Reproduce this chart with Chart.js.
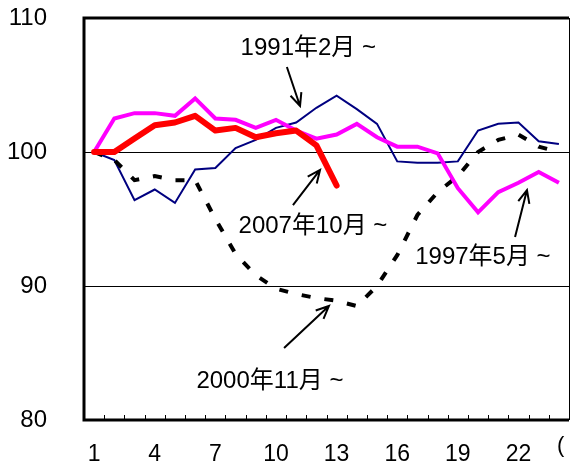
<!DOCTYPE html>
<html>
<head>
<meta charset="utf-8">
<script src="https://cdn.jsdelivr.net/npm/chart.js@4/dist/chart.umd.min.js"></script>
<style>
  html, body { margin: 0; padding: 0; background: #fff; }
  #wrap { width: 571px; height: 472px; }
</style>
</head>
<body>
<div id="wrap"><canvas id="c" width="571" height="472"></canvas></div>
<script>
// Months elapsed since each starting point (index = 100 at month 1)
const months = ['1','2','3','4','5','6','7','8','9','10','11','12',
                '13','14','15','16','17','18','19','20','21','22','23','24'];
const shownMonthLabels = ['1','4','7','10','13','16','19','22'];

const s1991 = [100, 99.4, 96.4, 97.2, 96.2, 98.7, 98.8, 100.3, 100.9, 101.8, 102.2, 103.3,
               104.2, 103.2, 102.1, 99.3, 99.2, 99.2, 99.3, 101.6, 102.1, 102.2, 100.8, 100.6];
const s1997 = [100, 102.5, 102.9, 102.9, 102.7, 104.0, 102.5, 102.4, 101.8, 102.4, 101.6, 101.0,
               101.3, 102.1, 101.1, 100.4, 100.4, 99.9, 97.3, 95.5, 97.0, 97.7, 98.5, 97.7];
const s2000 = [100, 99.4, 97.9, 98.2, 97.9, 97.9, 95.0, 92.4, 90.8, 89.8, 89.4, 89.1,
               88.9, 88.5, 90.0, 92.3, 95.3, 97.0, 98.2, 100.0, 100.9, 101.3, 100.4, 100.0];
const s2007 = [100, 100.0, 101.0, 102.0, 102.2, 102.7, 101.6, 101.8, 101.1, 101.4, 101.6, 100.5,
               97.5, null, null, null, null, null, null, null, null, null, null, null];

const yTicks = [80, 90, 100, 110];

const FONT = '"Liberation Sans", Arial, "Noto Sans CJK JP", sans-serif';

// Series captions with their pointer arrows, placed in data units (month, index)
const notes = [
  { text: '1991年2月 ~',  at: [11.60, 107.76], from: [10.54, 106.34], to: [11.19, 103.43] },
  { text: '2007年10月 ~', at: [11.83, 94.48],  from: [10.84, 96.04],  to: [12.18, 98.66] },
  { text: '1997年5月 ~',  at: [20.24, 92.16],  from: [21.83, 93.66],  to: [22.42, 97.16] },
  { text: '2000年11月 ~', at: [9.70, 82.91],   from: [10.40, 85.37],  to: [12.62, 88.51] }
];

const frameAndNotes = {
  id: 'frameAndNotes',
  afterDatasetsDraw(chart) {
    const { ctx, chartArea: a, scales: { x, y } } = chart;
    const px = m => x.getPixelForValue(m - 1);
    const py = v => y.getPixelForValue(v);
    ctx.save();

    // short inward tick marks between months
    ctx.strokeStyle = '#000';
    ctx.lineWidth = 1;
    for (let k = 1; k < months.length; k++) {
      const xx = Math.round((x.getPixelForValue(k - 1) + x.getPixelForValue(k)) / 2) + 0.5;
      ctx.beginPath();
      ctx.moveTo(xx, a.bottom);
      ctx.lineTo(xx, a.bottom - 5);
      ctx.stroke();
    }

    // plot frame
    ctx.lineWidth = 3;
    ctx.beginPath();
    ctx.moveTo(a.left, a.bottom);
    ctx.lineTo(a.left, a.top);
    ctx.lineTo(a.right, a.top);
    ctx.moveTo(a.left - 1.5, a.bottom);
    ctx.lineTo(a.right, a.bottom);
    ctx.stroke();
    ctx.lineWidth = 1;
    ctx.beginPath();
    ctx.moveTo(a.right + 0.5, a.top);
    ctx.lineTo(a.right + 0.5, a.bottom);
    ctx.stroke();

    // captions and arrows
    ctx.fillStyle = '#000';
    ctx.font = '24px ' + FONT;
    ctx.textAlign = 'center';
    ctx.textBaseline = 'middle';
    notes.forEach(n => {
      ctx.fillText(n.text, px(n.at[0]), py(n.at[1]));
      const x0 = px(n.from[0]), y0 = py(n.from[1]);
      const x1 = px(n.to[0]), y1 = py(n.to[1]);
      const ang = Math.atan2(y1 - y0, x1 - x0);
      const hl = 14, spread = 0.42;
      ctx.lineWidth = 2;
      ctx.beginPath();
      ctx.moveTo(x0, y0);
      ctx.lineTo(x1, y1);
      ctx.moveTo(x1 - hl * Math.cos(ang - spread), y1 - hl * Math.sin(ang - spread));
      ctx.lineTo(x1, y1);
      ctx.lineTo(x1 - hl * Math.cos(ang + spread), y1 - hl * Math.sin(ang + spread));
      ctx.stroke();
    });

    // unit bracket at the right end of the month axis
    ctx.textAlign = 'left';
    ctx.font = '22px ' + FONT;
    ctx.fillText('(', a.right - 12, a.bottom + 26);
    ctx.restore();
  }
};

new Chart(document.getElementById('c'), {
  type: 'line',
  data: {
    labels: months,
    datasets: [
      { label: '2007年10月 ~', data: s2007, borderColor: '#ff0000', borderWidth: 6,
        borderCapStyle: 'round', borderJoinStyle: 'round', spanGaps: false },
      { label: '1997年5月 ~', data: s1997, borderColor: '#ff00ff', borderWidth: 4 },
      { label: '2000年11月 ~', data: s2000, borderColor: '#000000', borderWidth: 4,
        borderDash: [9, 14], borderCapStyle: 'butt' },
      { label: '1991年2月 ~', data: s1991, borderColor: '#000080', borderWidth: 2 }
    ]
  },
  options: {
    responsive: false,
    animation: false,
    devicePixelRatio: 1,
    layout: { padding: { left: 0, right: 2, top: 18, bottom: 0 } },
    elements: {
      point: { radius: 0, hoverRadius: 0 },
      line: { tension: 0, fill: false }
    },
    plugins: { legend: { display: false }, tooltip: { enabled: false } },
    scales: {
      x: {
        offset: true,
        grid: { display: false, drawTicks: false },
        border: { display: false },
        ticks: {
          autoSkip: false,
          maxRotation: 0,
          padding: 21,
          color: '#000',
          font: { family: FONT, size: 23 },
          callback(v, i) { return shownMonthLabels.includes(months[i]) ? months[i] : ''; }
        },
        afterFit(s) { s.height = 52; s.paddingLeft = 0; s.paddingRight = 0; }
      },
      y: {
        min: yTicks[0],
        max: yTicks[yTicks.length - 1],
        afterBuildTicks(s) { s.ticks = yTicks.map(v => ({ value: v })); },
        grid: {
          drawTicks: false,
          lineWidth: 1,
          color: c => (c.tick && (c.tick.value === 90 || c.tick.value === 100)) ? '#000' : 'rgba(0,0,0,0)'
        },
        border: { display: false },
        ticks: {
          padding: 37,
          color: '#000',
          font: { family: FONT, size: 24 }
        },
        afterFit(s) { s.width = 84; s.paddingTop = 0; s.paddingBottom = 0; }
      }
    }
  },
  plugins: [frameAndNotes]
});
</script>
</body>
</html>
